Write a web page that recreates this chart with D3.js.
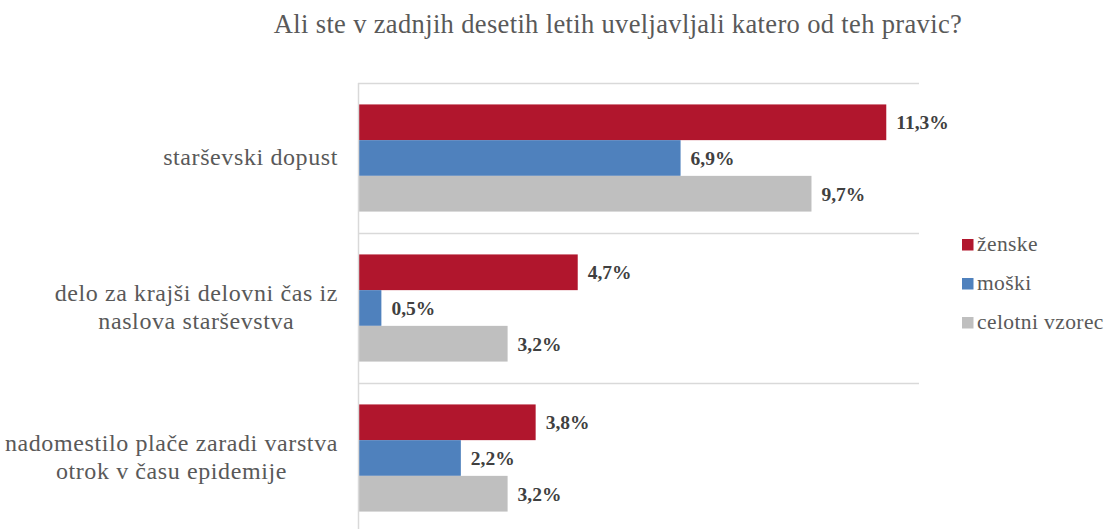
<!DOCTYPE html>
<html><head><meta charset="utf-8">
<script src="https://cdn.jsdelivr.net/npm/d3@7"></script>
<style>
body{margin:0;background:#fff}
svg{display:block}
svg text{font-family:"Liberation Serif","Times New Roman","DejaVu Serif",serif}
</style>
</head><body>
<script>
const title = "Ali ste v zadnjih desetih letih uveljavljali katero od teh pravic?";
const categories = [
  ["starševski dopust"],
  ["delo za krajši delovni čas iz", "naslova starševstva"],
  ["nadomestilo plače zaradi varstva", "otrok v času epidemije"]
];
const seriesNames = ["ženske", "moški", "celotni vzorec"];
const zenske = [11.3, 4.7, 3.8];
const moski = [6.9, 0.5, 2.2];
const celotni = [9.7, 3.2, 3.2];
const colors = ["#B1162D", "#4F81BD", "#BFBFBF"];
const series = [zenske, moski, celotni];

const W = 1110, H = 529;
const svg = d3.select("body").append("svg").attr("width", W).attr("height", H);

const x = d3.scaleLinear().domain([0, 12]).range([358, 919]);
const y = d3.scaleBand().domain(d3.range(categories.length)).range([83, 533]);
const inner = d3.scaleBand().domain(d3.range(series.length)).range([0, y.bandwidth()]).paddingOuter(0.6).paddingInner(0);

svg.append("text").attr("x", 618).attr("y", 33).attr("text-anchor", "middle")
  .attr("font-size", 26.5).attr("letter-spacing", 0.35).attr("fill", "#595959").text(title);

svg.append("g").selectAll("line").data(d3.range(categories.length + 1)).join("line")
  .attr("x1", 358).attr("x2", 919)
  .attr("y1", i => (i < categories.length ? y(i) : y.range()[1]) + 0.5)
  .attr("y2", i => (i < categories.length ? y(i) : y.range()[1]) + 0.5)
  .attr("stroke", "#D9D9D9").attr("stroke-width", 1.5);

const groups = svg.append("g").selectAll("g").data(categories).join("g")
  .attr("transform", (d, i) => `translate(0,${y(i)})`);

series.forEach((vals, s) => {
  groups.append("rect")
    .attr("x", x(0)).attr("y", inner(s))
    .attr("width", (d, i) => x(vals[i]) - x(0)).attr("height", inner.bandwidth())
    .attr("fill", colors[s]);
  groups.append("text")
    .attr("x", (d, i) => x(vals[i]) + 10).attr("y", inner(s) + inner.bandwidth() / 2)
    .attr("dy", "0.35em").attr("font-weight", "bold")
    .attr("font-size", 19.5).attr("fill", "#404040")
    .text((d, i) => vals[i].toFixed(1).replace(".", ",") + "%");
});

groups.each(function(lines) {
  const g = d3.select(this);
  const t = g.append("text").attr("font-size", 24).attr("letter-spacing", 0.6).attr("fill", "#595959")
    .attr("text-anchor", "middle");
  const lh = 28;
  const n = lines.length;
  const tsp = t.selectAll("tspan").data(lines).join("tspan")
    .attr("x", 0)
    .attr("y", (d, k) => y.bandwidth() / 2 + (k - (n - 1) / 2) * lh).attr("dy", "0.3em").text(d => d);
  const w = t.node().getBBox().width;
  tsp.attr("x", 338 - w / 2);
});

svg.append("line").attr("x1", 358.5).attr("x2", 358.5).attr("y1", 83).attr("y2", H)
  .attr("stroke", "#D9D9D9").attr("stroke-width", 1.5);

const legY = [245, 284, 323];
const leg = svg.append("g").selectAll("g").data(seriesNames).join("g")
  .attr("transform", (d, i) => `translate(962,${legY[i]})`);
leg.append("rect").attr("x", 0).attr("y", -6).attr("width", 11.5).attr("height", 11.5).attr("fill", (d, i) => colors[i]);
leg.append("text").attr("x", 15).attr("dy", "0.3em").attr("font-size", 21.5).attr("letter-spacing", 0.4)
  .attr("fill", "#595959").text(d => d);
</script>
</body></html>
